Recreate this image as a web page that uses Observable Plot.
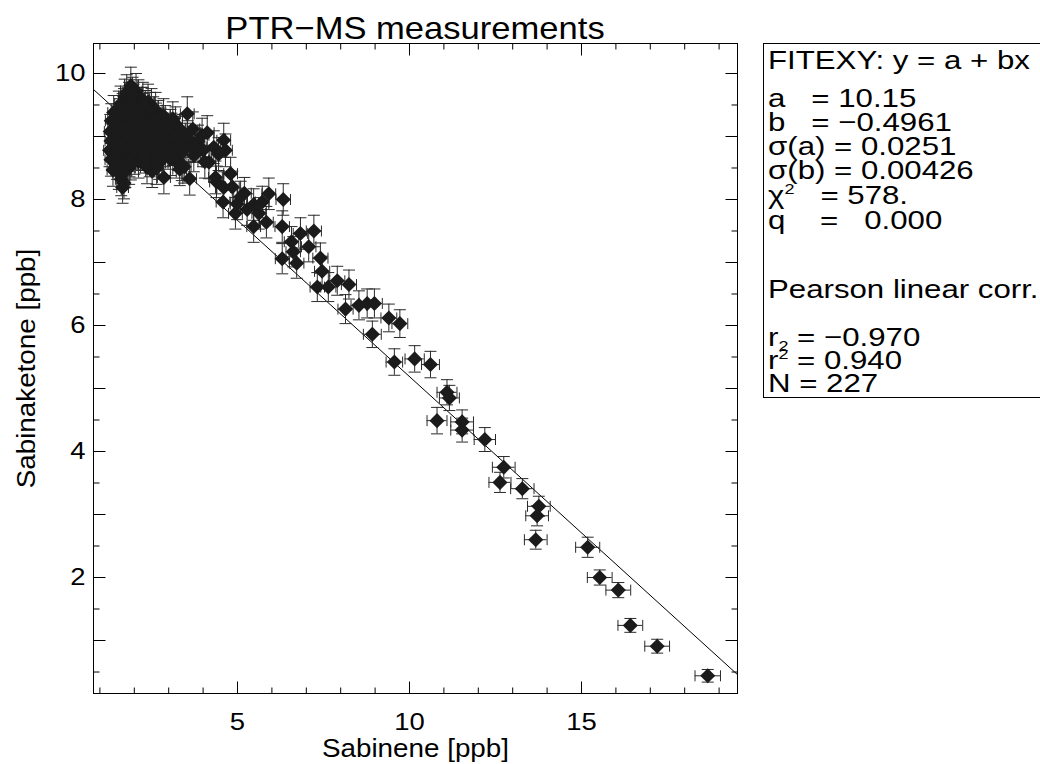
<!DOCTYPE html>
<html><head><meta charset="utf-8">
<script src="https://cdn.jsdelivr.net/npm/d3@7"></script>
<script src="https://cdn.jsdelivr.net/npm/@observablehq/plot@0.6"></script>
<style>
html,body{margin:0;padding:0;background:#fff;width:1040px;height:764px;overflow:hidden;font-family:"Liberation Sans",Arial,Helvetica,sans-serif;color:#000;}
#title{position:absolute;left:0;top:12px;width:830px;text-align:center;font-size:32px;line-height:33px;transform:scaleX(1.08);transform-origin:415px 0;white-space:nowrap;}
#chart{position:absolute;left:0;top:41px;}
#box{position:absolute;left:763px;top:43px;width:340px;height:353px;border:1px solid #000;background:#fff;}
#box .ln{position:absolute;left:4px;font-size:26px;line-height:24px;white-space:pre;transform:scaleX(1.2);transform-origin:0 0;}
#box sup{font-size:15px;vertical-align:10px;line-height:0;}
#box sub{font-size:15px;vertical-align:-5px;line-height:0;}
</style>
</head><body>
<div id="title">PTR−MS measurements</div>
<div id="chart"></div>
<div id="box"></div>
<script>
// Sabinene [ppb] (x) and Sabinaketone [ppb] (y), with 1-sigma errors
const sabinene = [
1.90,2.05,1.78,
1.72,1.95,2.12,2.25,1.85,2.40,
1.60,1.70,1.82,1.98,2.08,2.20,2.32,2.50,2.62,1.55,1.92,
1.40,1.58,1.66,1.75,1.88,2.00,2.14,2.26,2.38,2.55,2.70,2.85,1.95,2.45,3.54,
1.33,1.52,1.62,1.70,1.80,1.90,2.02,2.10,2.22,2.30,2.42,2.52,2.64,2.76,2.90,3.05,3.20,3.12,1.85,
1.30,1.40,1.56,1.65,1.74,1.83,1.94,2.03,2.15,2.25,2.35,2.47,2.58,2.68,2.80,2.95,3.08,3.25,3.40,3.97,3.70,4.12,
1.32,1.50,1.60,1.68,1.78,1.88,1.98,2.08,2.18,2.28,2.40,2.52,2.62,2.74,2.88,3.02,3.15,3.30,3.48,3.62,3.85,4.60,4.31,4.65,
1.28,1.38,1.55,1.64,1.73,1.82,1.92,2.02,2.12,2.22,2.34,2.46,2.58,2.70,2.84,2.98,3.12,3.28,3.42,3.73,4.00,4.45,
1.32,1.50,1.58,1.68,1.78,1.90,2.00,2.12,2.45,2.60,2.72,3.05,3.22,3.38,4.17,2.30,
1.38,1.55,1.63,1.74,1.85,2.37,2.52,2.65,3.32,3.45,
1.62,1.70,1.66,2.86,3.61,4.36,4.80,4.60,4.85,4.39,
1.95,2.18,1.72,2.40,2.05,2.60,1.60,2.30,1.86,2.80,2.25,3.55,3.80,4.05,5.20,5.62,
4.99,4.94,5.28,5.47,5.72,5.09,5.91,6.33,4.58,5.47,5.84,6.30,6.83,7.22,6.57,7.07,6.62,6.30,6.72,7.41,
7.46,7.90,8.24,7.32,7.64,8.14,8.53,8.77,8.98,9.40,9.72,8.92,9.56,10.15,10.61,11.09,11.16,10.80,11.53,11.53,
12.19,12.74,12.63,13.28,13.76,13.71,13.67,15.18,15.53,16.07,16.42,17.20,18.67
];
const sabinaketone = [
9.81,9.72,9.70,
9.63,9.66,9.62,9.58,9.58,9.55,
9.52,9.48,9.50,9.55,9.47,9.50,9.45,9.48,9.42,9.44,9.42,
9.38,9.33,9.40,9.36,9.32,9.38,9.35,9.40,9.32,9.36,9.30,9.33,9.30,9.42,9.36,
9.25,9.18,9.27,9.20,9.24,9.16,9.26,9.19,9.28,9.17,9.24,9.19,9.26,9.18,9.22,9.16,9.20,9.28,9.29,
9.08,9.12,9.03,9.10,9.05,9.12,9.02,9.09,9.04,9.11,9.02,9.08,9.13,9.04,9.09,9.03,9.10,9.05,9.08,9.02,9.12,9.06,
8.93,8.88,8.97,8.90,8.95,8.87,8.96,8.89,8.97,8.90,8.95,8.86,8.93,8.88,8.96,8.90,8.97,8.88,8.94,8.86,8.92,8.94,8.83,8.78,
8.78,8.73,8.82,8.75,8.80,8.71,8.79,8.74,8.82,8.72,8.78,8.73,8.80,8.72,8.78,8.74,8.80,8.72,8.77,8.70,8.78,8.72,
8.63,8.58,8.67,8.60,8.65,8.57,8.66,8.60,8.62,8.66,8.58,8.64,8.60,8.56,8.59,8.68,
8.47,8.42,8.52,8.45,8.50,8.51,8.45,8.50,8.48,8.52,
8.32,8.26,8.19,8.35,8.33,8.35,8.41,8.19,8.20,8.28,
9.45,9.22,9.14,8.85,9.00,9.00,8.85,8.95,8.62,8.65,9.50,8.98,8.85,8.60,8.10,7.78,
7.93,7.78,7.84,7.92,7.96,8.04,8.09,8.00,7.96,7.57,7.64,7.57,7.46,7.50,7.33,7.25,7.17,7.06,6.99,7.07,
6.86,6.71,6.65,6.61,6.61,6.26,6.32,6.35,6.35,6.12,6.03,5.86,5.42,5.47,5.38,4.94,4.85,4.49,4.47,4.34,
4.19,3.75,3.51,3.41,3.13,2.98,2.60,2.48,2.00,1.80,1.24,0.91,0.44
];
const sabineneErr = [
0.18,0.18,0.17,
0.17,0.18,0.18,0.19,0.18,0.19,
0.17,0.17,0.18,0.18,0.18,0.19,0.19,0.19,0.19,0.17,0.18,
0.17,0.17,0.17,0.18,0.18,0.18,0.18,0.19,0.19,0.19,0.19,0.19,0.18,0.19,0.20,
0.17,0.17,0.17,0.17,0.18,0.18,0.18,0.18,0.19,0.19,0.19,0.19,0.19,0.19,0.19,0.19,0.20,0.19,0.18,
0.17,0.17,0.17,0.17,0.17,0.18,0.18,0.18,0.18,0.19,0.19,0.19,0.19,0.19,0.19,0.19,0.19,0.20,0.20,0.20,0.20,0.20,
0.17,0.17,0.17,0.17,0.18,0.18,0.18,0.18,0.18,0.19,0.19,0.19,0.19,0.19,0.19,0.19,0.19,0.20,0.20,0.20,0.20,0.20,0.20,0.20,
0.17,0.17,0.17,0.17,0.17,0.18,0.18,0.18,0.18,0.19,0.19,0.19,0.19,0.19,0.19,0.19,0.19,0.20,0.20,0.20,0.20,0.20,
0.17,0.17,0.17,0.17,0.18,0.18,0.18,0.18,0.19,0.19,0.19,0.19,0.20,0.20,0.20,0.19,
0.17,0.17,0.17,0.17,0.18,0.19,0.19,0.19,0.20,0.20,
0.17,0.17,0.17,0.19,0.20,0.20,0.20,0.20,0.20,0.20,
0.18,0.19,0.17,0.19,0.18,0.19,0.17,0.19,0.18,0.19,0.19,0.20,0.20,0.20,0.20,0.20,
0.20,0.20,0.20,0.20,0.20,0.20,0.20,0.21,0.20,0.20,0.20,0.21,0.21,0.22,0.21,0.21,0.21,0.20,0.21,0.22,
0.22,0.22,0.22,0.21,0.22,0.22,0.23,0.23,0.23,0.23,0.23,0.26,0.24,0.28,0.26,0.29,0.29,0.29,0.33,0.33,
0.31,0.33,0.32,0.34,0.33,0.33,0.33,0.35,0.36,0.36,0.36,0.36,0.37
];
const sabinaketoneErr = [
0.29,0.28,0.28,
0.28,0.28,0.28,0.28,0.28,0.28,
0.28,0.28,0.28,0.28,0.28,0.28,0.28,0.28,0.28,0.28,0.28,
0.27,0.27,0.28,0.27,0.27,0.28,0.27,0.28,0.27,0.27,0.27,0.27,0.27,0.28,0.27,
0.27,0.27,0.27,0.27,0.27,0.27,0.27,0.27,0.27,0.27,0.27,0.27,0.27,0.27,0.27,0.27,0.27,0.27,0.27,
0.27,0.27,0.27,0.27,0.27,0.27,0.27,0.27,0.27,0.27,0.27,0.27,0.27,0.27,0.27,0.27,0.27,0.27,0.27,0.27,0.27,0.27,
0.27,0.26,0.27,0.27,0.27,0.26,0.27,0.26,0.27,0.26,0.27,0.26,0.27,0.26,0.27,0.26,0.27,0.26,0.27,0.26,0.26,0.27,0.26,0.26,
0.26,0.26,0.26,0.26,0.26,0.26,0.26,0.26,0.26,0.26,0.26,0.26,0.26,0.26,0.26,0.26,0.26,0.26,0.26,0.26,0.26,0.26,
0.26,0.26,0.26,0.26,0.26,0.26,0.26,0.26,0.26,0.26,0.26,0.26,0.26,0.26,0.26,0.26,
0.26,0.26,0.26,0.26,0.26,0.26,0.26,0.26,0.26,0.26,
0.26,0.25,0.25,0.26,0.26,0.26,0.26,0.25,0.25,0.25,
0.28,0.27,0.27,0.26,0.27,0.27,0.26,0.27,0.26,0.26,0.28,0.27,0.26,0.26,0.25,0.25,
0.25,0.25,0.25,0.25,0.25,0.25,0.25,0.25,0.25,0.25,0.25,0.25,0.25,0.25,0.24,0.24,0.24,0.24,0.24,0.24,
0.24,0.23,0.23,0.23,0.23,0.23,0.23,0.23,0.23,0.22,0.22,0.21,0.21,0.21,0.21,0.20,0.20,0.21,0.19,0.19,
0.19,0.17,0.16,0.16,0.16,0.16,0.15,0.16,0.12,0.12,0.11,0.11,0.10
];

// FITEXY fit and statistics
const fitA = 10.15;
const fitB = -0.4961;
const statLines = [
  "FITEXY: y = a + bx",
  "a   = 10.15",
  "b   = −0.4961",
  "σ(a) = 0.0251",
  "σ(b) = 0.00426",
  "χ<sup>2</sup>   = 578.",
  "q    =   0.000",
  "Pearson linear corr.",
  "r<sub>2</sub> = −0.970",
  "r<sup>2</sup> = 0.940",
  "N = 227"
];
const statBaselines = [69, 107, 131, 155, 179, 204, 229, 298, 346, 369, 392];

// axis setup
const xDomain = [0.814, 19.535];
const yDomain = [0.159, 10.476];
const xLabelTicks = [5, 10, 15];
const xMinorTicks = [1,2,3,4,6,7,8,9,11,12,13,14,16,17,18,19];
const yLabelTicks = [2, 4, 6, 8, 10];
const yMajorTicks = [1,2,3,4,5,6,7,8,9,10];
const yMinorTicks = [0.5,1.5,2.5,3.5,4.5,5.5,6.5,7.5,8.5,9.5];

const points = sabinene.map((x, i) => ({x, y: sabinaketone[i], ex: sabineneErr[i], ey: sabinaketoneErr[i]}));
const fitLine = xDomain.map(x => ({x, y: fitA + fitB * x}));

const seg = (dx, dy) => ({draw(ctx) { ctx.moveTo(0, 0); ctx.lineTo(dx, dy); }});
const hcap = {draw(ctx) { ctx.moveTo(-6, 0); ctx.lineTo(6, 0); }};
const vcap = {draw(ctx) { ctx.moveTo(0, -5.5); ctx.lineTo(0, 5.5); }};
const barColor = "#2a2a2a";

const tickMarks = (vals, channel, anchor, sym) =>
  Plot.dot(vals, {[channel]: d => d, frameAnchor: anchor, symbol: sym, stroke: "#000", fill: "none", strokeWidth: 1});

const chart = Plot.plot({
  width: 760, height: 723,
  marginLeft: 93, marginRight: 23, marginTop: 2, marginBottom: 71,
  x: {domain: xDomain},
  y: {domain: yDomain},
  style: {fontFamily: '"Liberation Sans", Arial, Helvetica, sans-serif', background: "white", color: "#000", overflow: "visible"},
  marks: [
    Plot.line(fitLine, {x: "x", y: "y", stroke: "#000", strokeWidth: 1, clip: true}),
    Plot.ruleX(points, {x: "x", y1: d => d.y - d.ey, y2: d => d.y + d.ey, stroke: barColor, strokeWidth: 1}),
    Plot.ruleY(points, {y: "y", x1: d => d.x - d.ex, x2: d => d.x + d.ex, stroke: barColor, strokeWidth: 1}),
    Plot.dot(points, {x: "x", y: d => d.y + d.ey, symbol: hcap, stroke: barColor, fill: "none", strokeWidth: 1}),
    Plot.dot(points, {x: "x", y: d => d.y - d.ey, symbol: hcap, stroke: barColor, fill: "none", strokeWidth: 1}),
    Plot.dot(points, {x: d => d.x - d.ex, y: "y", symbol: vcap, stroke: barColor, fill: "none", strokeWidth: 1}),
    Plot.dot(points, {x: d => d.x + d.ex, y: "y", symbol: vcap, stroke: barColor, fill: "none", strokeWidth: 1}),
    Plot.dot(points, {x: "x", y: "y", symbol: "diamond2", r: 6.8, fill: "#1b1b1b", stroke: "none"}),
    tickMarks(xLabelTicks, "x", "bottom", seg(0, -12)),
    tickMarks(xMinorTicks, "x", "bottom", seg(0, -6)),
    tickMarks(xLabelTicks, "x", "top", seg(0, 12)),
    tickMarks(xMinorTicks, "x", "top", seg(0, 6)),
    tickMarks(yMajorTicks, "y", "left", seg(12, 0)),
    tickMarks(yMinorTicks, "y", "left", seg(6, 0)),
    tickMarks(yMajorTicks, "y", "right", seg(-12, 0)),
    tickMarks(yMinorTicks, "y", "right", seg(-6, 0)),
    Plot.frame({stroke: "#000", strokeWidth: 1}),
    Plot.axisX(xLabelTicks, {tickSize: 0, tickPadding: 19, fontSize: 24.5, label: null, tickFormat: d => String(d)}),
    Plot.axisY(yLabelTicks, {tickSize: 0, tickPadding: 8, fontSize: 24.5, label: null, tickFormat: d => String(d)}),
    Plot.text(["Sabinene [ppb]"], {frameAnchor: "bottom", dy: 55.5, fontSize: 26, textAnchor: "middle", lineAnchor: "middle"}),
    Plot.text(["Sabinaketone [ppb]"], {frameAnchor: "left", dx: -67, rotate: -90, fontSize: 26, textAnchor: "middle", lineAnchor: "middle"})
  ]
});

// slightly widen the lettering (horizontal only), as in the reference
for (const t of chart.querySelectorAll("text")) {
  const x = parseFloat(t.getAttribute("x")) || 0;
  t.removeAttribute("x");
  const tr = t.getAttribute("transform") || "";
  const big = (t.textContent || "").length > 3;
  t.setAttribute("transform", `${tr} translate(${x},0) scale(${big ? 1.07 : 1.12},1)`);
}
document.getElementById("chart").appendChild(chart);

const box = document.getElementById("box");
statLines.forEach((s, i) => {
  const d = document.createElement("div");
  d.className = "ln";
  d.style.top = (statBaselines[i] - 65) + "px";
  d.innerHTML = s;
  box.appendChild(d);
});
</script>
</body></html>
